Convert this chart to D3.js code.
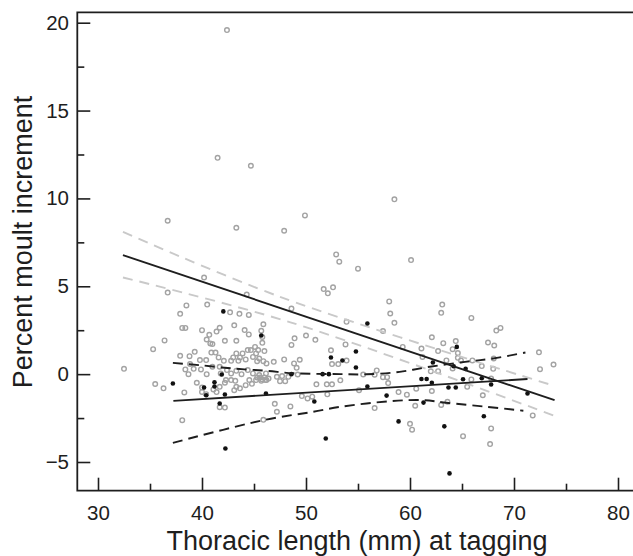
<!DOCTYPE html>
<html><head><meta charset="utf-8">
<script src="https://cdn.jsdelivr.net/npm/d3@7"></script>
<style>
body{margin:0;background:#fff}
svg{display:block}
text{font-family:"Liberation Sans",Arial,Helvetica,sans-serif;fill:#1e1e1e}
</style>
</head><body>
<svg id="chart" width="633" height="556"></svg>
<script>
// ---- data ----
const xMajorTicks = [30, 40, 50, 60, 70, 80];
const xMinorTicks = [35, 45, 55, 65, 75];
const yMajorTicks = [-5, 0, 5, 10, 15, 20];
const yMinorTicks = [-2.5, 2.5, 7.5, 12.5, 17.5];
const yTickLabels = ["\u22125", "0", "5", "10", "15", "20"];

const greyPoints = [
 [42.4,19.58],[41.5,12.31],[44.7,11.86],[58.5,9.95],[49.9,9.03],[36.7,8.73],[43.3,8.33],[47.9,8.16],
 [52.9,6.81],[53.2,6.40],[55.0,6.0],[60.1,6.49],[40.2,5.5],[36.7,4.64],[44.3,4.53],[51.7,4.84],[52.1,4.6],[52.6,4.94],
 [48.6,3.73],[58.0,4.14],[58.1,3.45],[58.5,2.92],[63.1,3.96],[63.0,3.49],[65.9,3.2],[68.3,2.48],[68.7,2.63],
 [53.9,2.98],[57.4,2.45],[62.1,2.1],[63.2,1.76],[64.4,1.88],[64.6,1.2],[67.5,1.8],[68.1,1.63],[72.4,1.24],[72.5,0.28],[73.8,0.55],
 [59.3,1.55],[61.1,1.46],[62.7,1.31],[64.1,1.42],[61.2,0.98],[63.5,0.78],[64.6,0.93],[64.9,0.78],[66.0,0.78],[66.9,0.46],
 [68.0,0.3],[68.05,0.89],[64.1,0.32],[62.0,0.16],[62.7,0.17],
 [47.9,0.84],[49.4,0.82],[48.9,2.04],[48.6,1.66],[50.0,2.2],[50.9,1.95],[52.4,1.36],[53.8,1.69],[52.5,0.57],[53.1,0.57],[53.9,0.77],
 [56.8,0.21],[56.6,-0.03],[57.4,-0.17],[57.8,-0.17],[55.5,-0.02],[53.3,-0.35],[52.5,-0.58],[52.0,-0.58],[51.0,-0.58],[57.9,-0.51],
 [55.1,-0.91],[58.9,-1.02],[59.7,-1.17],[60.6,-0.83],[62.1,-0.96],[65.5,-0.72],[65.9,-0.3],[67.0,-1.2],[67.8,-0.25],[52.05,-1.15],
 [49.6,-1.25],[50.15,-1.38],[50.6,-1.28],[48.5,-1.84],[56.6,-1.93],[60.5,-1.8],[63.0,-1.75],[63.6,-1.57],[71.8,-2.35],
 [60.0,-2.83],[60.2,-3.16],[65.1,-3.53],[67.8,-3.09],[67.7,-3.98],[49.2,-0.02],[48.85,0.61],[49.1,0.36],[46.9,0.7],
 [32.5,0.3],[38.5,3.91],[40.5,3.96],[37.9,3.43],[42.7,3.52],[43.6,3.43],[44.5,3.37],[38.1,2.63],[38.4,2.63],[40.0,2.5],
 [40.7,2.24],[41.4,2.42],[41.7,2.64],[43.1,2.78],[44.1,2.51],[44.5,2.26],[45.9,2.84],[45.7,2.47],
 [36.4,1.92],[35.3,1.42],[40.45,1.97],[40.8,1.75],[41.0,1.71],[42.2,1.9],[43.3,1.9],[45.8,2.12],[45.8,1.78],[46.0,1.31],
 [45.1,1.55],[45.4,1.37],[45.2,1.18],[45.5,0.89],[45.3,0.74],[45.9,0.74],[46.2,0.61],
 [37.9,1.04],[38.8,1.02],[39.3,1.27],[39.8,0.8],[40.4,0.8],[40.9,1.23],[41.3,1.23],[41.6,0.95],[42.1,0.76],[42.8,0.76],
 [43.3,1.18],[43.9,1.18],[44.4,1.37],[44.7,1.37],[44.9,0.98],[43.65,0.95],[43.0,0.95],[43.5,0.76],[44.2,0.84],
 [38.85,0.57],[38.4,0.27],[38.7,0.0],[39.2,0.3],[39.9,0.27],[40.45,0.0],[41.0,0.42],[41.7,0.42],[41.8,0.04],[42.4,0.23],
 [42.8,0.04],[43.3,0.19],[43.8,0.0],[44.4,0.23],[44.9,0.04],[45.3,-0.19],[45.6,-0.19],[46.0,-0.19],[46.2,-0.34],[46.15,0.04],
 [47.2,-0.15],[47.7,-0.11],[47.5,-0.4],[48.0,-0.4],[48.3,-0.15],[45.5,-0.05],[45.8,-0.3],
 [35.5,-0.56],[36.3,-0.81],[38.3,-1.04],[39.5,-0.49],[40.0,-0.76],[40.0,-1.01],[40.4,-1.14],[41.1,-0.87],[41.4,-1.02],
 [41.7,-0.72],[42.2,-0.49],[42.3,-0.34],[42.8,-0.34],[43.2,-0.38],[43.3,-0.72],[43.1,-0.91],[43.65,-0.81],[44.2,-0.63],
 [44.55,-0.34],[45.2,-0.34],[45.7,-0.38],[46.1,-0.34],[46.4,-0.25],[44.8,-0.55],
 [41.7,-1.88],[42.2,-1.9],[38.1,-2.62],[45.9,-2.6],[47.0,-1.69],[47.2,-2.14]
];

const blackPoints = [
 [42.05,3.57],[45.7,2.2],[55.9,2.88],[64.5,1.55],[54.8,1.29],[52.4,0.95],[53.5,0.78],[54.8,0.38],[62.2,0.66],
 [64.2,0.45],[65.35,0.3],[37.2,-0.53],[41.9,-0.02],[40.2,-0.76],[41.2,-0.46],[41.2,-0.7],[40.4,-1.2],[42.2,-1.16],
 [46.15,-1.1],[41.7,-1.67],[42.25,-4.23],[48.6,0.0],[51.6,0.0],[52.2,0.0],[55.9,-0.71],[57.75,-1.22],[50.8,-1.56],
 [61.1,-0.28],[61.6,-0.28],[62.1,-0.49],[63.7,-0.76],[64.4,-0.76],[65.1,-0.29],[66.9,-0.23],[67.8,-0.59],[71.3,-1.1],
 [61.3,-1.62],[67.1,-2.4],[58.9,-2.69],[63.3,-2.97],[51.9,-3.66],[63.8,-5.65]
];

const greyFit = [[32.4,6.77],[73.9,-1.48]];
const greyCIUpper = [[32.4,8.1],[47.5,4.4],[73.9,-0.67]];
const greyCILower = [[32.4,5.5],[48.5,2.95],[73.9,-2.37]];

const blackFit = [[37.25,-1.52],[71.3,-0.28]];
const blackCIUpper = [[37.2,0.64],[39.8,0.51],[43.0,0.32],[46.2,0.19],[48.8,0.05],[53.3,0.0],[55.8,-0.01],
 [59.0,0.13],[61.9,0.42],[65.3,0.7],[68.0,0.89],[71.1,1.23]];
const blackCILower = [[37.2,-3.91],[45.9,-2.62],[50.7,-2.14],[53.3,-1.86],[58.1,-1.54],[61.3,-1.48],
 [63.5,-1.63],[67.4,-1.86],[70.9,-2.08]];

// ---- layout ----
const W = 633, H = 556;
const frame = {left: 77.3, top: 12.3, bottom: 490.7, right: 633};
const x = d3.scaleLinear().domain([30, 80]).range([98, 618]);
const y = d3.scaleLinear().domain([-5, 20]).range([462, 22.7]);
const ink = "#1e1e1e";

const svg = d3.select("#chart");

// axes ticks
const xMajor = d3.axisBottom(x).tickValues(xMajorTicks).tickSize(-13).tickPadding(14.3).tickFormat(d => d);
const xMinor = d3.axisBottom(x).tickValues(xMinorTicks).tickSize(-7).tickFormat("");
const yMajor = d3.axisLeft(y).tickValues(yMajorTicks).tickSize(-13).tickPadding(8.3)
  .tickFormat((d, i) => yTickLabels[i]);
const yMinor = d3.axisLeft(y).tickValues(yMinorTicks).tickSize(-7).tickFormat("");

function styleAxis(g){
  g.select(".domain").remove();
  g.selectAll(".tick line").attr("stroke", ink).attr("stroke-width", 1.6);
  g.selectAll(".tick text").attr("fill", ink).style("font-size", "20.5px")
    .style("font-family", '"Liberation Sans", Arial, sans-serif');
}
svg.append("g").attr("transform", `translate(0,${frame.bottom})`).call(xMajor).call(styleAxis);
svg.append("g").attr("transform", `translate(0,${frame.bottom})`).call(xMinor).call(styleAxis);
svg.append("g").attr("transform", `translate(${frame.left},0)`).call(yMajor).call(styleAxis);
svg.append("g").attr("transform", `translate(${frame.left},0)`).call(yMinor).call(styleAxis);

// frame lines
svg.append("path")
  .attr("d", `M${frame.right},${frame.top}H${frame.left}V${frame.bottom}H${frame.right}`)
  .attr("fill", "none").attr("stroke", ink).attr("stroke-width", 1.8);

// grey points
svg.append("g").selectAll("circle").data(greyPoints).join("circle")
  .attr("cx", d => x(d[0])).attr("cy", d => y(d[1])).attr("r", 2.3)
  .attr("fill", "none").attr("stroke", "#a3a3a3").attr("stroke-width", 1.4);

// lines
const line = d3.line().x(d => x(d[0])).y(d => y(d[1]));
const smooth = d3.line().x(d => x(d[0])).y(d => y(d[1])).curve(d3.curveCatmullRom);

svg.append("path").attr("d", smooth(greyCIUpper)).attr("fill","none")
  .attr("stroke","#c9c9c9").attr("stroke-width",1.9).attr("stroke-dasharray","10,7");
svg.append("path").attr("d", smooth(greyCILower)).attr("fill","none")
  .attr("stroke","#c9c9c9").attr("stroke-width",1.9).attr("stroke-dasharray","10,7");

// black points
svg.append("g").selectAll("circle").data(blackPoints).join("circle")
  .attr("cx", d => x(d[0])).attr("cy", d => y(d[1])).attr("r", 2.3)
  .attr("fill", "#111");

svg.append("path").attr("d", line(greyFit)).attr("fill","none")
  .attr("stroke",ink).attr("stroke-width",1.9);
svg.append("path").attr("d", line(blackFit)).attr("fill","none")
  .attr("stroke",ink).attr("stroke-width",1.9);
svg.append("path").attr("d", smooth(blackCIUpper)).attr("fill","none")
  .attr("stroke",ink).attr("stroke-width",1.9).attr("stroke-dasharray","10,6");
svg.append("path").attr("d", smooth(blackCILower)).attr("fill","none")
  .attr("stroke",ink).attr("stroke-width",1.9).attr("stroke-dasharray","10,6");

// titles
svg.append("text").attr("x", 357).attr("y", 550).attr("text-anchor","middle")
  .style("font-size","27px").text("Thoracic length (mm) at tagging");
svg.append("text").attr("transform","translate(32,242) rotate(-90)").attr("text-anchor","middle")
  .style("font-size","27px").text("Percent moult increment");
</script>
</body></html>
